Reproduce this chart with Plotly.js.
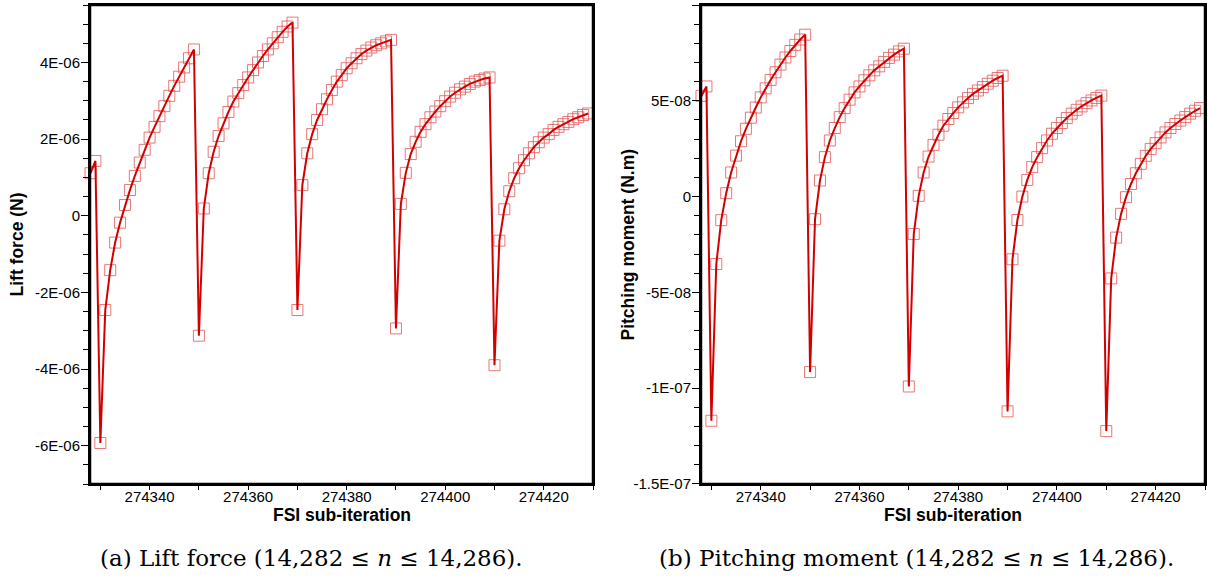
<!DOCTYPE html>
<html>
<head>
<meta charset="utf-8">
<script src="https://cdn.plot.ly/plotly-3.0.1.min.js"></script>
<style>
  html, body { margin: 0; padding: 0; background: #fff; }
  #chart { width: 1208px; height: 579px; }
</style>
</head>
<body>
<div id="chart"></div>
<script>
// FSI sub-iteration index
const iteration = [
  274328, 274329, 274330, 274331, 274332, 274333, 274334, 274335, 274336, 274337,
  274338, 274339, 274340, 274341, 274342, 274343, 274344, 274345, 274346, 274347,
  274348, 274349, 274350, 274351, 274352, 274353, 274354, 274355, 274356, 274357,
  274358, 274359, 274360, 274361, 274362, 274363, 274364, 274365, 274366, 274367,
  274368, 274369, 274370, 274371, 274372, 274373, 274374, 274375, 274376, 274377,
  274378, 274379, 274380, 274381, 274382, 274383, 274384, 274385, 274386, 274387,
  274388, 274389, 274390, 274391, 274392, 274393, 274394, 274395, 274396, 274397,
  274398, 274399, 274400, 274401, 274402, 274403, 274404, 274405, 274406, 274407,
  274408, 274409, 274410, 274411, 274412, 274413, 274414, 274415, 274416, 274417,
  274418, 274419, 274420, 274421, 274422, 274423, 274424, 274425, 274426, 274427,
  274428, 274429
];

// Lift force, in micro-newtons (1E-06 N)
const liftMicroN = [
  1.11, 1.43, -5.93, -2.46, -1.42, -0.70, -0.18, 0.28, 0.67, 1.04,
  1.39, 1.72, 2.04, 2.32, 2.60, 2.86, 3.13, 3.39, 3.63, 3.87,
  4.11, 4.34, -3.13, 0.19, 1.11, 1.67, 2.08, 2.41, 2.71, 2.98,
  3.20, 3.41, 3.61, 3.80, 4.00, 4.17, 4.34, 4.50, 4.66, 4.80,
  4.94, 5.04, -2.46, 0.80, 1.63, 2.13, 2.50, 2.78, 3.04, 3.28,
  3.50, 3.67, 3.85, 3.98, 4.11, 4.22, 4.31, 4.39, 4.45, 4.50,
  4.55, 4.59, -2.94, 0.31, 1.12, 1.61, 1.93, 2.19, 2.39, 2.57,
  2.72, 2.86, 2.99, 3.11, 3.21, 3.30, 3.37, 3.44, 3.50, 3.54,
  3.58, 3.61, -3.90, -0.65, 0.17, 0.64, 0.98, 1.24, 1.45, 1.63,
  1.79, 1.92, 2.04, 2.13, 2.24, 2.32, 2.39, 2.45, 2.52, 2.57,
  2.63, 2.67
];

// Pitching moment, in units of 1E-08 N.m
const momentE8 = [
  5.26, 5.75, -11.70, -3.52, -1.23, 0.18, 1.26, 2.14, 2.89, 3.54,
  4.12, 4.65, 5.18, 5.65, 6.09, 6.49, 6.89, 7.26, 7.60, 7.92,
  8.20, 8.45, -9.16, -1.18, 0.84, 2.06, 2.93, 3.58, 4.15, 4.62,
  5.06, 5.44, 5.75, 6.07, 6.33, 6.59, 6.80, 7.03, 7.24, 7.41,
  7.58, 7.72, -9.91, -1.95, 0.04, 1.26, 2.09, 2.70, 3.23, 3.70,
  4.05, 4.36, 4.66, 4.92, 5.15, 5.36, 5.54, 5.72, 5.89, 6.05,
  6.19, 6.31, -11.21, -3.27, -1.22, 0.00, 0.87, 1.54, 2.06, 2.53,
  2.93, 3.28, 3.58, 3.84, 4.10, 4.33, 4.53, 4.71, 4.88, 5.02,
  5.15, 5.27, -12.24, -4.27, -2.14, -0.90, -0.03, 0.66, 1.22, 1.71,
  2.13, 2.49, 2.79, 3.09, 3.35, 3.58, 3.79, 3.97, 4.15, 4.33,
  4.48, 4.62
];

// Tick labels
const liftTickVals = [-6e-6, -4e-6, -2e-6, 0, 2e-6, 4e-6];
const liftTickText = ['-6E-06', '-4E-06', '-2E-06', '0', '2E-06', '4E-06'];
const momentTickVals = [-1.5e-7, -1e-7, -5e-8, 0, 5e-8, 1e-7];
const momentTickText = ['-1.5E-07', '-1E-07', '-5E-08', '0', '5E-08', '1E-07'];

const lift = liftMicroN.map(v => v * 1e-6);
const moment = momentE8.map(v => v * 1e-8);

const lineColor = 'rgb(210,0,0)';
const markerColor = 'rgba(228,85,85,0.8)';
const font = 'Liberation Sans, Arial, Helvetica, sans-serif';
const serif = 'DejaVu Serif, Liberation Serif, serif';

function traces(y, xa, ya) {
  return [
    {
      x: iteration, y: y, xaxis: xa, yaxis: ya, type: 'scatter', mode: 'markers',
      cliponaxis: false, hoverinfo: 'skip',
      marker: { symbol: 'square-open', size: 11, color: markerColor, line: { width: 1, color: markerColor } }
    },
    {
      x: iteration, y: y, xaxis: xa, yaxis: ya, type: 'scatter', mode: 'lines',
      line: { color: lineColor, width: 2 }
    }
  ];
}

const data = [].concat(traces(lift, 'x', 'y'), traces(moment, 'x2', 'y2'));

const xBase = {
  range: [274327.9, 274430],
  tickmode: 'linear', tick0: 274340, dtick: 20, tickformat: 'd',
  ticks: 'outside', ticklen: 4, tickwidth: 1, tickcolor: '#000',
  ticklabelstandoff: -6,
  minor: { tickmode: 'linear', tick0: 274330, dtick: 10, ticks: 'outside', ticklen: 4, tickcolor: '#000', tickwidth: 1 },
  showline: true, linecolor: '#000', linewidth: 2, mirror: true,
  showgrid: false, zeroline: false,
  tickfont: { family: font, size: 15, color: '#000' }
};

function yBase(range, vals, text, minorDtick) {
  return {
    range: range, tickmode: 'array', tickvals: vals, ticktext: text,
    ticks: 'outside', ticklen: 7, tickwidth: 1, tickcolor: '#000',
    ticklabelstandoff: -2,
    minor: { tickmode: 'linear', tick0: 0, dtick: minorDtick, ticks: 'outside', ticklen: 5, tickcolor: '#000', tickwidth: 1 },
    showline: true, linecolor: '#000', linewidth: 2, mirror: true,
    showgrid: false, zeroline: false,
    tickfont: { family: font, size: 15, color: '#000' }
  };
}

const W = 1208, H = 579;
const plotTop = 5, plotBottom = 484;
const yDom = [(H - plotBottom) / H, (H - plotTop) / H];
const titleFont = { family: font, size: 17.5, color: '#000', weight: 'bold' };

function note(text, x, y, opts) {
  return Object.assign({
    xref: 'paper', yref: 'paper', x: x / W, y: (H - y) / H,
    xanchor: 'center', yanchor: 'middle', showarrow: false, text: text
  }, opts);
}

// frame drawn in paper space (unclipped) around each plot area
function frame(left, right) {
  return {
    type: 'rect', xref: 'paper', yref: 'paper',
    x0: left / W, x1: right / W, y0: yDom[0], y1: yDom[1],
    line: { color: '#000', width: 2.5 }, fillcolor: 'rgba(0,0,0,0)', layer: 'above'
  };
}

const layout = {
  width: W, height: H,
  margin: { l: 0, r: 0, t: 0, b: 0 },
  paper_bgcolor: '#fff', plot_bgcolor: '#fff',
  showlegend: false,
  xaxis: Object.assign({}, xBase, { domain: [90 / W, 593 / W], anchor: 'y' }),
  xaxis2: Object.assign({}, xBase, { domain: [701 / W, 1205 / W], anchor: 'y2' }),
  yaxis: Object.assign(yBase([-7e-6, 5.5e-6], liftTickVals, liftTickText, 0.5e-6), { domain: yDom, anchor: 'x' }),
  yaxis2: Object.assign(yBase([-1.5e-7 - 1e-11, 1e-7 + 1e-11], momentTickVals, momentTickText, 1e-8), { domain: yDom, anchor: 'x2' }),
  shapes: [frame(90, 593), frame(701, 1205)],
  annotations: [
    note('Lift force (N)', 17, 244.5, { textangle: -90, font: titleFont }),
    note('Pitching moment (N.m)', 628, 244.5, { textangle: -90, font: titleFont }),
    note('FSI sub-iteration', 342, 515, { font: titleFont }),
    note('FSI sub-iteration', 953, 515, { font: titleFont }),
    note('(a) Lift force (14,282 ≤ <i>n</i> ≤ 14,286).', 311, 558, { font: { family: serif, size: 23, color: '#000' } }),
    note('(b) Pitching moment (14,282 ≤ <i>n</i> ≤ 14,286).', 916, 558, { font: { family: serif, size: 23, color: '#000' } })
  ]
};

Plotly.newPlot('chart', data, layout, { displayModeBar: false, staticPlot: true });
</script>
</body>
</html>
